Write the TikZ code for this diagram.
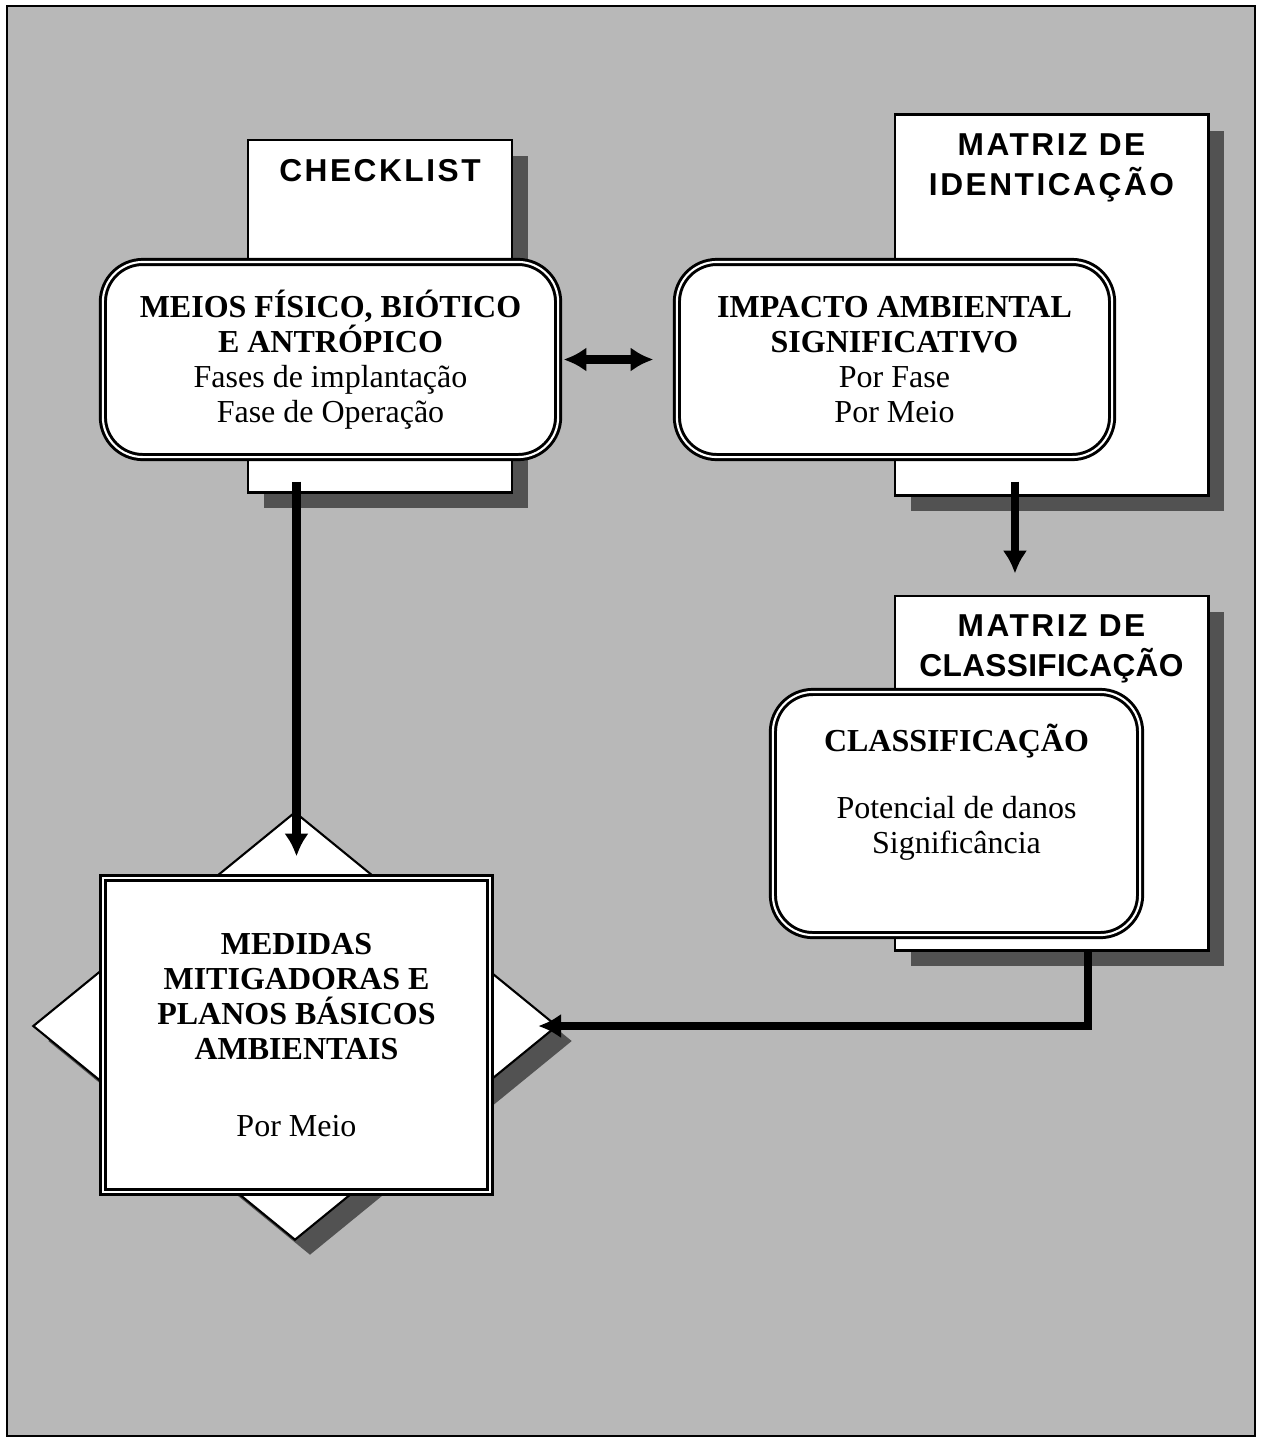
\documentclass[tikz,border=0pt]{standalone}
\usepackage{fontspec}
\setmainfont{Liberation Serif}
\setsansfont{Liberation Sans}
\usetikzlibrary{arrows.meta,shapes.geometric,shadows}
\tikzset{>={Latex[width=7pt,length=6.5pt]}}

\begin{document}
\begin{tikzpicture}[x=0.01cm, y=-0.01cm,
  panel/.style={draw, fill=white, line width=0.8pt, inner sep=0pt,
    general shadow={fill=black!68, shadow xshift=0.16cm, shadow yshift=-0.16cm}},
  headtext/.style={anchor=north, inner sep=0pt, align=center,
    font=\sffamily\bfseries\fontsize{9}{11.2}\selectfont\addfontfeature{LetterSpace=8}},
  rbox/.style={draw, fill=white, line width=0.85pt, double=white, double distance=0.6pt,
    rounded corners=0.4cm, inner sep=0pt, align=center, font=\fontsize{9.1}{10}\selectfont},
  flow/.style={->, line width=2.3pt}]

  \useasboundingbox (0,0) rectangle (1263,1441);
  \draw[line width=0.6pt, fill=black!28] (7,6) rectangle (1255,1436);

  %% panels behind
  \node[panel, minimum width=2.64cm, minimum height=3.52cm] (checklist) at (380,316) {};
  \node[panel, minimum width=3.13cm, minimum height=3.80cm] (ident) at (1051.5,305) {};
  \node[panel, minimum width=3.13cm, minimum height=3.54cm] (class) at (1051.5,773) {};
  \node[headtext] (checklisthead) at ([yshift=-0.2cm]checklist.north) {CHECKLIST};
  \node[headtext] (identhead) at ([yshift=-0.2cm]ident.north) {MATRIZ DE\\IDENTICAÇÃO};
  \node[headtext] (classhead) at ([yshift=-0.2cm]class.north)
    {MATRIZ DE\\\addfontfeature{LetterSpace=1}CLASSIFICAÇÃO};

  %% rounded boxes
  \node[rbox, minimum width=4.55cm, minimum height=1.95cm] (meios) at (330.5,359.5)
    {\textbf{MEIOS FÍSICO, BIÓTICO}\\\textbf{E ANTRÓPICO}\\Fases de implantação\\Fase de Operação};
  \node[rbox, minimum width=4.35cm, minimum height=1.95cm] (impacto) at (894.5,359.5)
    {\textbf{IMPACTO AMBIENTAL}\\\textbf{SIGNIFICATIVO}\\Por Fase\\Por Meio};
  \node[rbox, minimum width=3.67cm, minimum height=2.43cm] (classif) at (956.5,813.5)
    {\textbf{CLASSIFICAÇÃO}\\[9pt]Potencial de danos\\Significância\\[4pt]\mbox{}};

  %% measures
  \node[diamond, draw, fill=white, line width=0.6pt, inner sep=0pt,
    minimum width=5.24cm, minimum height=4.28cm,
    general shadow={fill=black!68, shadow xshift=0.15cm, shadow yshift=-0.15cm}] (medidasbg) at (295,1026) {};
  \node[rbox, rounded corners=0pt, minimum width=3.87cm, minimum height=3.14cm] (medidas) at (296.5,1035)
    {\textbf{MEDIDAS}\\\textbf{MITIGADORAS E}\\\textbf{PLANOS BÁSICOS}\\\textbf{AMBIENTAIS}\\[12pt]Por Meio};

  %% connectors
  \draw[flow, <->, shorten <=0.04cm, shorten >=0.22cm] (meios) -- (impacto); % meios<->impacto
  \draw[flow, shorten <=0.23cm, shorten >=0.2cm] (meios.south -| medidas.north) -- (medidas.north); % checklist->medidas
  \draw[flow, shorten <=-0.15cm, shorten >=0.21cm] ([xshift=-0.365cm]ident.south) -- ([xshift=-0.365cm]class.north); % ident->class
  \draw[flow, shorten >=-0.2cm] ([xshift=0.365cm]class.south) |- (medidasbg.east); % class->medidas

\end{tikzpicture}
\end{document}
